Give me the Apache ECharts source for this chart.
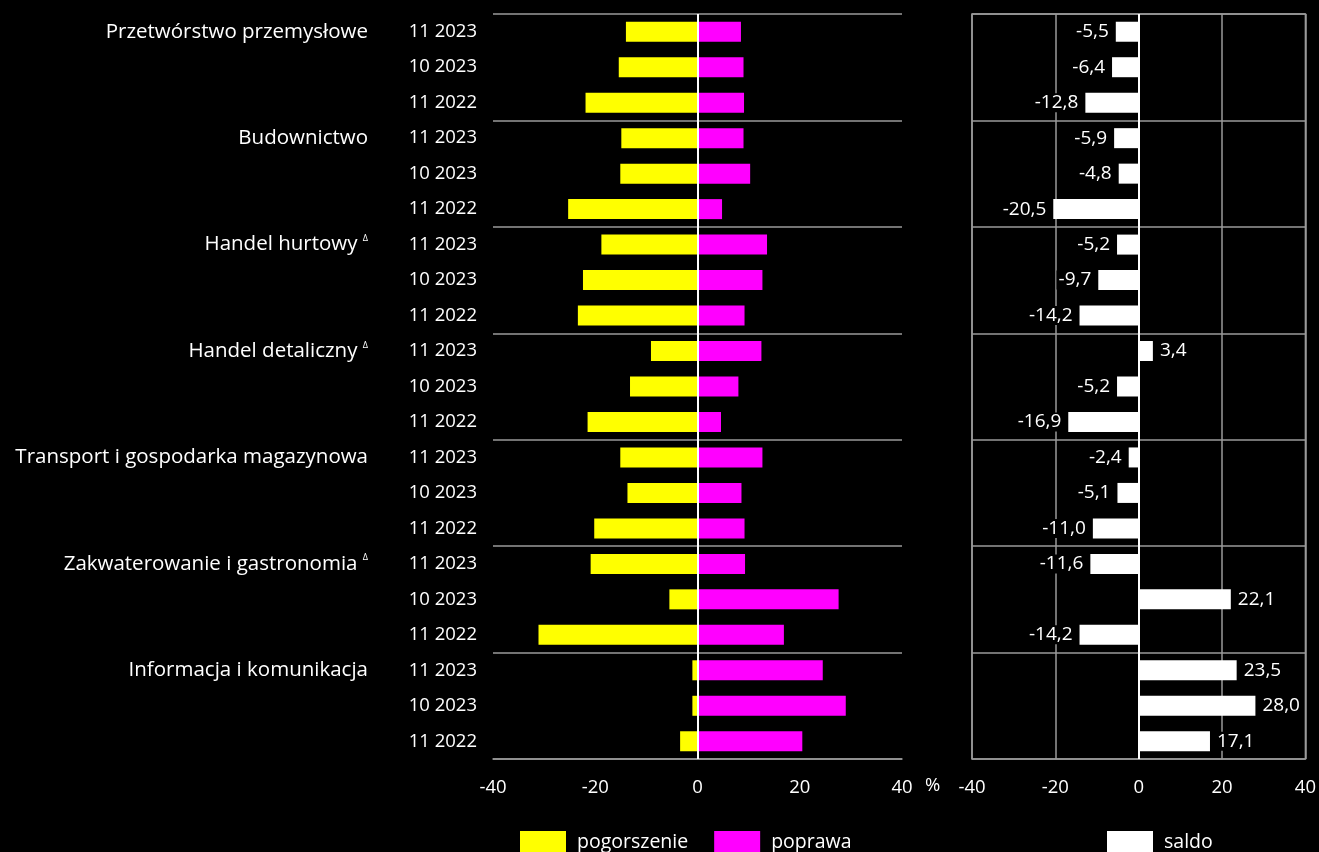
<!DOCTYPE html>
<html><head><meta charset="utf-8">
<script src="https://cdn.jsdelivr.net/npm/echarts@6/dist/echarts.min.js"></script>
<style>html,body{margin:0;padding:0;background:#000;}#c{width:1319px;height:852px;}</style>
</head><body><div id="c"></div>
<script>
const dates = ['11 2023','10 2023','11 2022','11 2023','10 2023','11 2022','11 2023','10 2023','11 2022','11 2023','10 2023','11 2022','11 2023','10 2023','11 2022','11 2023','10 2023','11 2022','11 2023','10 2023','11 2022'];
const sectors = ['Przetwórstwo przemysłowe','Budownictwo','Handel hurtowy','Handel detaliczny','Transport i gospodarka magazynowa','Zakwaterowanie i gastronomia','Informacja i komunikacja'];
const sectorMark = [false,false,true,true,false,true,false];
const pogorszenie = [-14.0,-15.4,-21.9,-14.9,-15.1,-25.3,-18.8,-22.4,-23.4,-9.1,-13.2,-21.5,-15.1,-13.7,-20.2,-20.9,-5.5,-31.1,-1.0,-1.0,-3.4];
const poprawa = [8.5,9.0,9.1,9.0,10.3,4.8,13.6,12.7,9.2,12.5,8.0,4.6,12.7,8.6,9.2,9.3,27.6,16.9,24.5,29.0,20.5];
const saldo = [-5.5,-6.4,-12.8,-5.9,-4.8,-20.5,-5.2,-9.7,-14.2,3.4,-5.2,-16.9,-2.4,-5.1,-11.0,-11.6,22.1,-14.2,23.5,28.0,17.1];
const xTicks = {min:-40, max:40, interval:20};

const FONT = 'Open Sans';
const sectorLabels = dates.map((d,i)=> i%3===0 ? sectors[i/3] : '');
const fmt = v => v.toFixed(1).replace('.', ',');

const chart = echarts.init(document.getElementById('c'));
const grey = '#9a9a9a';
const txt = {color:'#fff', fontFamily:FONT, fontSize:18.5};

chart.setOption({
  backgroundColor:'#000',
  animation:false,
  textStyle:{fontFamily:FONT},
  grid:[
    {left:493, right:417, top:14, bottom:93, containLabel:false},
    {left:972, right:11, top:14, bottom:93, containLabel:false, show:true, borderColor:grey, borderWidth:1.5, backgroundColor:'transparent'}
  ],
  legend:[
    {left:520, top:831, padding:0, itemWidth:46, itemHeight:22, itemGap:26, icon:'rect', data:['pogorszenie','poprawa'],
     textStyle:{color:'#fff', fontFamily:FONT, fontSize:19.5, padding:[0,0,0,6]}},
    {left:1107, top:831, padding:0, itemWidth:46, itemHeight:22, icon:'rect', data:['saldo'],
     textStyle:{color:'#fff', fontFamily:FONT, fontSize:19.5, padding:[0,0,0,6]}}
  ],
  xAxis:[
    {gridIndex:0, type:'value', min:xTicks.min, max:xTicks.max, interval:xTicks.interval,
     axisLine:{show:true, lineStyle:{color:grey, width:1.5}}, axisTick:{show:false}, splitLine:{show:false},
     axisLabel:Object.assign({margin:19}, txt)},
    {gridIndex:1, type:'value', min:xTicks.min, max:xTicks.max, interval:xTicks.interval,
     axisLine:{show:false}, axisTick:{show:false}, splitLine:{show:true, lineStyle:{color:grey, width:1.5}},
     axisLabel:Object.assign({margin:19}, txt)}
  ],
  yAxis:[
    {gridIndex:0, type:'category', inverse:true, data:dates,
     axisLine:{show:false}, axisTick:{show:false},
     splitLine:{show:true, interval:(i)=> i%3===0, lineStyle:{color:grey, width:1.5}},
     axisLabel:Object.assign({margin:16, interval:0}, txt)},
    {gridIndex:0, type:'category', inverse:true, data:sectorLabels, position:'left', offset:109,
     axisLine:{show:false}, axisTick:{show:false}, splitLine:{show:false},
     axisLabel:{margin:16, interval:0, color:'#fff', fontFamily:FONT, fontSize:20.5,
       formatter:(v,i)=>{ if(!v) return ''; const k=sectors.indexOf(v); return sectorMark[k] ? '{n|'+v+'} {s|Δ}' : '{n|'+v+'}'; },
       rich:{n:{color:'#fff', fontFamily:FONT, fontSize:20.5}, s:{color:'#fff', fontFamily:FONT, fontSize:9, verticalAlign:'top', padding:[0,0,10,0]}}}},
    {gridIndex:1, type:'category', inverse:true, data:dates,
     axisLine:{show:false}, axisTick:{show:false}, axisLabel:{show:false},
     splitLine:{show:true, interval:(i)=> i%3===0, lineStyle:{color:grey, width:1.5}}}
  ],
  series:[
    {name:'pogorszenie', type:'bar', xAxisIndex:0, yAxisIndex:0, stack:'a', barWidth:20, data:pogorszenie,
     itemStyle:{color:'#ffff00'},
     markLine:{silent:true, symbol:'none', label:{show:false}, lineStyle:{color:'#fff', width:2, type:'solid'}, data:[{xAxis:0}]}},
    {name:'poprawa', type:'bar', xAxisIndex:0, yAxisIndex:0, stack:'a', barWidth:20, data:poprawa,
     itemStyle:{color:'#ff00ff'}},
    {name:'saldo', type:'bar', xAxisIndex:1, yAxisIndex:2, barWidth:20,
     data:saldo.map(v=>({value:v, label:{position: v<0?'left':'right'}})),
     itemStyle:{color:'#ffffff'},
     label:{show:true, distance:5, color:'#fff', fontFamily:FONT, fontSize:19, backgroundColor:'#000', padding:[0,2],
       formatter:p=>fmt(p.value)},
     markLine:{silent:true, symbol:'none', label:{show:false}, lineStyle:{color:'#fff', width:2, type:'solid'}, data:[{xAxis:0}]}}
  ],
  graphic:[
    {type:'text', left:925, top:776, style:{text:'%', fill:'#fff', font:'18.5px "'+FONT+'"'}}
  ]
});
</script></body></html>
